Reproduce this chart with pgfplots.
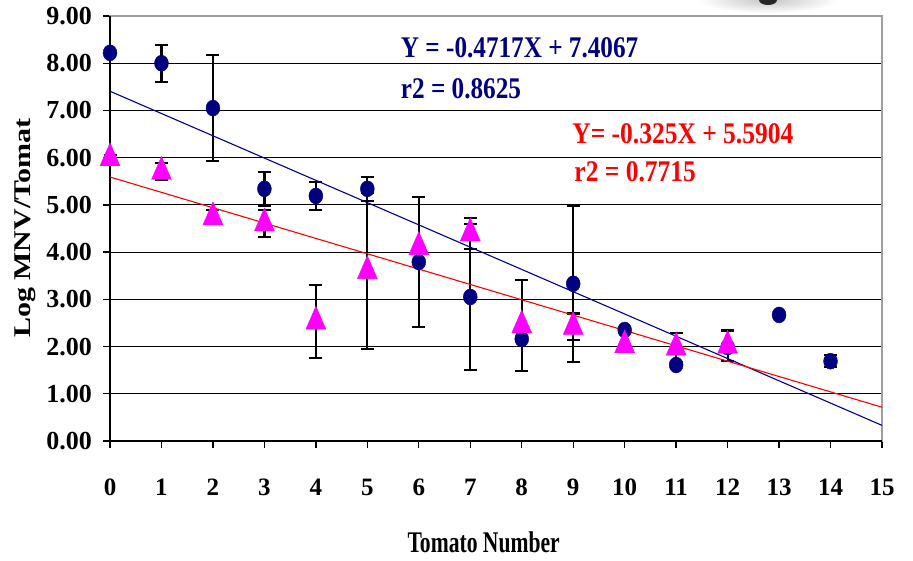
\documentclass[border=0pt]{standalone}
\usepackage{fontspec}
\setmainfont{Liberation Serif}
\usepackage{pgfplots}
\usepackage{pgfplotstable}
\pgfplotsset{compat=1.18}

\definecolor{navyblue}{RGB}{0,0,128}
\definecolor{trendblue}{RGB}{0,0,150}
\definecolor{pinkmag}{RGB}{255,0,255}
\definecolor{trendred}{RGB}{255,0,0}

% Mean log MNV per tomato, first series (circles)
\pgfplotstableread{
x    y     err
0    8.22  0
1    8.00  0.39
2    7.05  1.12
3    5.34  0.36
4    5.19  0.30
5    5.34  0.25
6    3.79  1.38
7    3.05  1.55
8    2.16  0
9    3.33  1.65
10   2.35  0
11   1.61  0
12   1.99  0
13   2.67  0
14   1.69  0.13
}\seriesA

% Second series (triangles)
\pgfplotstableread{
x    y     err
0    5.99  0.07
1    5.70  0.18
2    4.74  0.15
3    4.61  0.29
4    2.53  0.77
5    3.60  1.65
6    4.11  0
7    4.40  0.33
8    2.45  0.96
9    2.42  0.28
10   2.03  0
11   1.98  0.30
12   2.02  0.32
}\seriesB

\begin{document}
\begin{tikzpicture}
\useasboundingbox (0,0) rectangle (913pt,560pt);
% soft dark blot at the top edge
\shade[inner color=gray!45, outer color=white] (768pt,560pt) ellipse (70pt and 13pt);
\fill[black!85] (768pt,560pt) ellipse (9pt and 5pt);

\begin{axis}[
  at={(110pt,119pt)}, anchor=south west,
  scale only axis, width=772pt, height=425pt,
  xmin=0, xmax=15, ymin=0, ymax=9,
  xtick={0,...,15}, ytick={0,...,9},
  tick pos=left, tick align=outside,
  major tick length=7pt,
  tick style={black, line width=1.3pt},
  ymajorgrids,
  major grid style={black, line width=1.1pt},
  axis line style={draw=gray!75, line width=1.5pt},
  yticklabel style={font=\fontsize{26}{26}\selectfont\bfseries,
    inner sep=0pt, xshift=-11pt,
    /pgf/number format/fixed, /pgf/number format/fixed zerofill,
    /pgf/number format/precision=2,
    /pgf/number format/assume math mode=true},
  xticklabel style={font=\fontsize{25}{25}\selectfont\bfseries,
    inner sep=0pt, yshift=-31pt,
    /pgf/number format/assume math mode=true},
  xlabel={\scalebox{0.72}[1]{Tomato Number}},
  xlabel style={font=\fontsize{30}{30}\selectfont\bfseries,
    at={(axis description cs:0.484,-0.262)}, anchor=base, inner sep=0pt},
  ylabel={\scalebox{1}[0.8]{Log MNV/Tomat}},
  ylabel style={font=\fontsize{30}{30}\selectfont\bfseries,
    at={(axis description cs:-0.1025,0.242)}, anchor=base west, inner sep=0pt},
  clip=false,
]
% left and bottom axis lines in black
\draw[black, line width=1.5pt] (rel axis cs:0,1) -- (rel axis cs:0,0) -- (rel axis cs:1,0);

\addplot[only marks, mark=*, mark size=8pt,
  mark options={xscale=0.87, fill=navyblue, draw=navyblue},
  error bars/.cd, y dir=both, y explicit,
  error bar style={black, line width=2.2pt},
  error mark options={rotate=90, black, mark size=6.5pt, line width=2.2pt}]
  table[x=x, y=y, y error=err] {\seriesA};

\addplot[only marks, mark=triangle*, mark size=11.5pt,
  mark options={yscale=1.33, fill=pinkmag, draw=pinkmag},
  error bars/.cd, y dir=both, y explicit,
  error bar style={black, line width=2.2pt},
  error mark options={rotate=90, black, mark size=6.5pt, line width=2.2pt}]
  table[x=x, y=y, y error=err] {\seriesB};

% fitted trend lines
\addplot[trendblue, line width=1.1pt] coordinates {(0,7.4067) (15,0.3312)};
\addplot[trendred, line width=1.1pt] coordinates {(0,5.5904) (15,0.7154)};

\node[anchor=base west, inner sep=0pt, text=navyblue,
  font=\fontsize{30}{30}\selectfont\bfseries]
  at (axis cs:5.65,8.13) {\scalebox{0.84}[1]{Y = -0.4717X + 7.4067}};
\node[anchor=base west, inner sep=0pt, text=navyblue,
  font=\fontsize{30}{30}\selectfont\bfseries]
  at (axis cs:5.65,7.26) {\scalebox{0.84}[1]{r2 = 0.8625}};
\node[anchor=base west, inner sep=0pt, text=trendred,
  font=\fontsize{30}{30}\selectfont\bfseries]
  at (axis cs:8.98,6.31) {\scalebox{0.85}[1]{Y= -0.325X + 5.5904}};
\node[anchor=base west, inner sep=0pt, text=trendred,
  font=\fontsize{30}{30}\selectfont\bfseries]
  at (axis cs:9.02,5.49) {\scalebox{0.85}[1]{r2 = 0.7715}};
\end{axis}
\end{tikzpicture}
\end{document}
